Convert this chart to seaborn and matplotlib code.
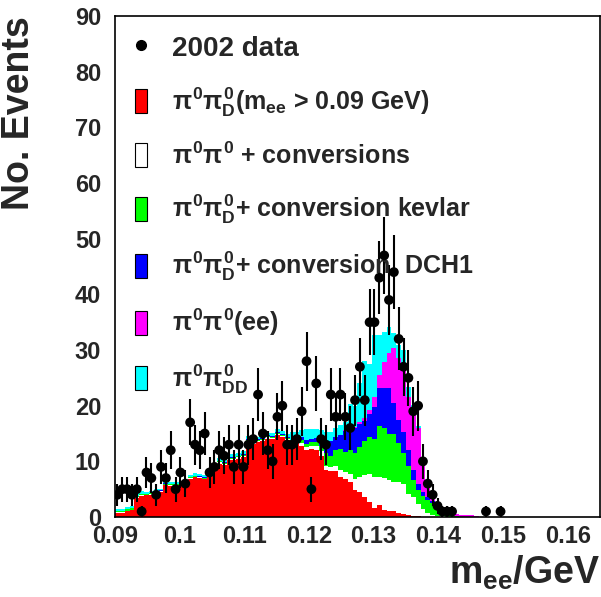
import numpy as np
import pandas as pd
import matplotlib
matplotlib.use("Agg")
import matplotlib.pyplot as plt
from matplotlib.patches import Patch
from matplotlib.lines import Line2D
from matplotlib.ticker import MultipleLocator
import seaborn as sns

# ---------------  Data  ------------
# 100 bins of 0.75 MeV between 0.09 and 0.165 GeV
x_min, x_max, n_bins = 0.09, 0.165, 100

# 2002 data, counts per bin (bins 0..79)
data_counts = [4, 5, 5, 4, 5, 1, 8, 7, 4, 9,
               7, 12, 5, 8, 6, 17, 13, 12, 15, 8,
               9, 12, 11, 13, 9, 13, 9, 13, 14, 22,
               15, 12, 10, 18, 20, 13, 13, 14, 19, 28,
               5, 24, 14, 13, 22, 18, 22, 18, 16, 21,
               27, 21, 35, 35, 43, 47, 39, 44, 32, 27,
               25, 19, 20, 10, 6, 4, 2, 1, 1, 1,
               0, 0, 0, 0, 0, 0, 1, 0, 0, 1]

# MC components, counts per bin (stack order bottom -> top)
dalitz = [0.8, 0.8, 1.0, 1.2, 3.5, 3.8, 3.9, 4.0, 4.4, 4.5,
          5.7, 5.6, 5.7, 5.7, 6.3, 6.9, 7.1, 7.0, 6.8, 8.1,
          8.4, 9.6, 9.3, 10.2, 10.2, 10.5, 10.8, 13.5, 13.2, 13.4,
          13.6, 14.1, 14.0, 14.7, 14.4, 13.8, 12.8, 13.5, 12.8, 12.0,
          12.2, 12.0, 11.0, 8.5, 8.2, 8.2, 7.2, 6.8, 6.3, 4.8,
          4.5, 3.6, 2.7, 1.6, 2.2, 1.3, 1.0, 1.0, 0.7, 0.5,
          0.4, 0.2, 0.1]

conversions = [0.1, 0.1, 0.1, 0.1, 0.1, 0.1, 0.1, 0.1, 0.1, 0.1,
               0.1, 0.1, 0.1, 0.1, 0.1, 0.1, 0.1, 0.1, 0.1, 0.1,
               0.1, 0.2, 0.2, 0.2, 0.2, 0.2, 0.2, 0.2, 0.2, 0.2,
               0.2, 0.2, 0.2, 0.2, 0.2, 0.2, 0.3, 0.3, 0.5, 0.6,
               0.6, 0.7, 0.8, 0.7, 0.8, 1.0, 1.2, 1.2, 1.4, 2.1,
               2.7, 4.0, 5.0, 5.6, 5.0, 5.7, 5.6, 5.3, 5.6, 5.5,
               3.8, 3.4, 2.3, 1.5, 0.8, 0.4, 0.2, 0.1]

kevlar = [0.15, 0.15, 0.3, 0.3, 0.15, 0.15, 0.15, 0.15, 0.15, 0.15,
          0.15, 0.15, 0.15, 0.15, 0.15, 0.15, 0.15, 0.15, 0.15, 0.15,
          0.15, 0.2, 0.2, 0.2, 0.2, 0.2, 0.2, 0.2, 0.2, 0.2,
          0.2, 0.2, 0.2, 0.2, 0.2, 0.2, 0.3, 0.3, 0.5, 0.6,
          0.6, 0.7, 0.9, 2.3, 2.0, 2.8, 3.8, 3.7, 4.4, 4.6,
          5.4, 6.1, 6.6, 6.8, 9.1, 9.0, 8.4, 8.7, 7.0, 5.5,
          4.9, 3.1, 2.5, 2.2, 2.3, 2.1, 1.2, 0.6, 0.4, 0.2,
          0.1]

dch1 = [0.05, 0.05, 0.05, 0.05, 0.05, 0.05, 0.05, 0.05, 0.05, 0.05,
        0.2, 0.05, 0.05, 0.05, 0.05, 0.05, 0.05, 0.05, 0.05, 0.05,
        0.05, 0.15, 0.15, 0.15, 0.15, 0.15, 0.15, 0.15, 0.15, 0.15,
        0.15, 0.15, 0.15, 0.15, 0.15, 0.15, 0.3, 0.4, 0.5, 0.6,
        0.7, 0.8, 1.0, 2.0, 2.6, 2.3, 2.5, 3.8, 4.6, 4.5,
        4.2, 3.5, 4.2, 5.8, 6.8, 7.1, 8.1, 5.4, 4.1, 3.8,
        2.9, 1.8, 1.1, 0.8, 0.5, 0.3, 0.2, 0.1, 0.1, 0.1]

pi0_ee = [0.0, 0.0, 0.0, 0.0, 0.0, 0.0, 0.0, 0.0, 0.0, 0.0,
          0.0, 0.0, 0.0, 0.0, 0.0, 0.0, 0.0, 0.0, 0.0, 0.0,
          0.0, 0.0, 0.0, 0.0, 0.0, 0.0, 0.0, 0.0, 0.0, 0.0,
          0.0, 0.0, 0.0, 0.0, 0.0, 0.0, 0.0, 0.0, 0.0, 0.0,
          0.0, 0.0, 0.0, 0.1, 0.1, 0.1, 0.1, 0.1, 0.1, 0.2,
          0.2, 0.5, 0.7, 1.8, 2.4, 4.8, 6.3, 9.9, 11.1, 11.7,
          9.6, 11.3, 10.0, 5.5, 2.4, 0.7, 0.4, 0.4, 0.3, 0.3,
          0.4, 0.4, 0.3, 0.3, 0.2]

double_dalitz = [0.3, 0.3, 0.3, 0.3, 0.5, 0.5, 0.3, 0.3, 0.3, 0.3,
                 0.3, 0.3, 0.3, 0.3, 0.3, 0.4, 0.5, 0.5, 0.4, 0.3,
                 0.3, 0.5, 0.5, 0.5, 0.5, 0.5, 0.5, 0.5, 0.5, 0.5,
                 0.5, 0.5, 0.5, 0.5, 0.5, 0.5, 1.6, 0.8, 1.3, 2.1,
                 1.8, 1.7, 1.9, 1.7, 1.6, 1.6, 1.7, 1.4, 3.5, 3.7,
                 7.0, 10.3, 8.3, 11.1, 7.2, 5.4, 4.8, 2.7, 2.4, 3.0,
                 1.8, 0.4, 0.4, 0.5, 0.5, 0.5, 0.4, 0.3, 0.2, 0.1]

components = {
    "dalitz": dalitz,
    "conversions": conversions,
    "kevlar": kevlar,
    "dch1": dch1,
    "ee": pi0_ee,
    "dd": double_dalitz,
}
colors = {"dalitz": "#ff0000", "conversions": "#ffffff", "kevlar": "#00ff00",
          "dch1": "#0000ff", "ee": "#ff00ff", "dd": "#00ffff"}
labels = {
    "dalitz": r"$\pi^0\pi^0_D$(m$_{ee}$ > 0.09 GeV)",
    "conversions": r"$\pi^0\pi^0$ + conversions",
    "kevlar": r"$\pi^0\pi^0_D$+ conversion kevlar",
    "dch1": r"$\pi^0\pi^0_D$+ conversion  DCH1",
    "ee": r"$\pi^0\pi^0$(ee)",
    "dd": r"$\pi^0\pi^0_{DD}$",
}

# ---------------  Build long-form table  ------------
edges = np.linspace(x_min, x_max, n_bins + 1)
centers = 0.5 * (edges[:-1] + edges[1:])

rows = []
for name, vals in components.items():
    for i, v in enumerate(vals):
        rows.append((centers[i], v, name))
mc_df = pd.DataFrame(rows, columns=["mee", "n", "comp"])

data_df = pd.DataFrame({"mee": centers[:len(data_counts)], "n": data_counts})
data_df = data_df[data_df["n"] > 0].copy()
data_df["err"] = np.sqrt(data_df["n"])

# ---------------  Plot  ------------
sns.set_style("white")
plt.rcParams["font.family"] = ["Liberation Sans", "DejaVu Sans"]
plt.rcParams["font.weight"] = "bold"
plt.rcParams["axes.labelweight"] = "bold"
plt.rcParams["mathtext.fontset"] = "custom"
plt.rcParams["mathtext.rm"] = "Liberation Sans:bold"
plt.rcParams["mathtext.it"] = "Liberation Sans:bold"
plt.rcParams["mathtext.bf"] = "Liberation Sans:bold"

fig = plt.figure(figsize=(6.01, 5.97), dpi=100)
ax = fig.add_axes([0.1913, 0.134, 0.807, 0.839])

# seaborn puts the last hue level at the bottom of the stack
sns.histplot(data=mc_df, x="mee", weights="n", hue="comp",
             hue_order=list(components.keys())[::-1], palette=colors,
             bins=n_bins, binrange=(x_min, x_max), multiple="stack",
             element="step", fill=True, alpha=1, linewidth=0,
             legend=False, ax=ax)

ax.errorbar(data_df["mee"], data_df["n"], yerr=data_df["err"], fmt="none",
            ecolor="black", elinewidth=1.5, capsize=0, zorder=5)
sns.scatterplot(data=data_df, x="mee", y="n", color="black", s=50,
                edgecolor="none", zorder=6, ax=ax)

ax.set_xlim(x_min, x_max)
ax.set_ylim(0, 90)
ax.xaxis.set_major_locator(MultipleLocator(0.01))
ax.xaxis.set_minor_locator(MultipleLocator(0.002))
ax.yaxis.set_major_locator(MultipleLocator(10))
ax.yaxis.set_minor_locator(MultipleLocator(2))
ax.xaxis.set_major_formatter(plt.FuncFormatter(lambda v, p: f"{v:g}"))
ax.tick_params(which="both", direction="in", top=False, right=False,
               labelsize=17, width=1)
ax.tick_params(which="major", length=10)
ax.tick_params(which="minor", length=5)
ax.tick_params(axis="x", which="major", pad=6)
ax.tick_params(axis="y", which="major", pad=10)
for sp in ax.spines.values():
    sp.set_linewidth(1.2)
    sp.set_color("black")

ax.set_xlabel(r"m$_{ee}$/GeV", fontsize=27, fontweight="bold", loc="right", labelpad=4)
ax.set_ylabel("No. Events", fontsize=27, fontweight="bold", loc="top", labelpad=27)

handles = [Line2D([], [], marker="o", color="black", linestyle="none", markersize=7)]
handles += [Patch(facecolor=colors[k], edgecolor="black", linewidth=0.8)
            for k in components]
leg_labels = ["2002 data"] + [labels[k] for k in components]
leg = ax.legend(handles, leg_labels, loc="upper left", bbox_to_anchor=(0.02, 0.982),
                frameon=False, fontsize=18, handlelength=0.48, handleheight=1.1,
                handletextpad=1.0, labelspacing=0.95, borderaxespad=0)
leg.get_texts()[0].set_fontsize(20)

fig.savefig("out.png", dpi=100)
